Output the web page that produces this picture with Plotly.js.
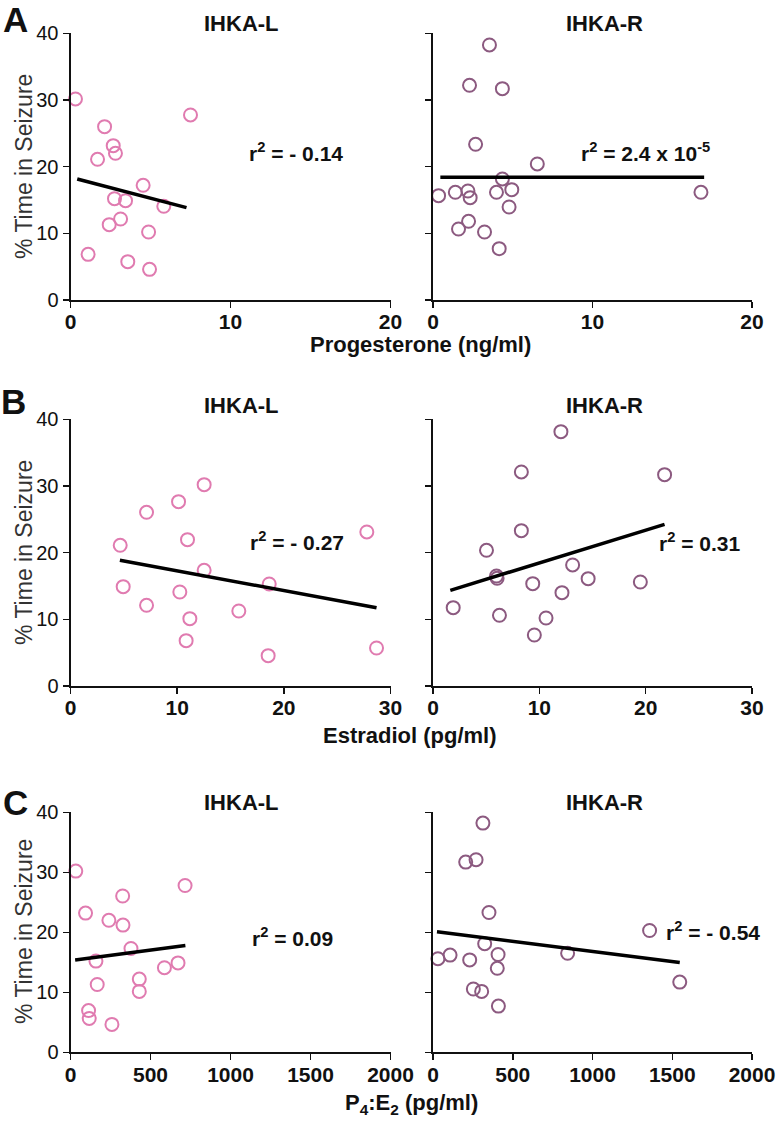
<!DOCTYPE html>
<html>
<head>
<meta charset="utf-8">
<script src="https://cdn.plot.ly/plotly-3.0.1.min.js"></script>
<style>body{margin:0;background:#fff}#chart{width:780px;height:1124px}</style>
</head>
<body>
<div id="chart"></div>
<script>
// ---- Data ----
// Panel A: Progesterone (ng/ml)
const progL_x = [0.31, 7.5, 2.13, 2.67, 2.81, 1.69, 4.54, 2.75, 3.44, 5.83, 2.42, 3.13, 4.88, 1.1, 3.58, 4.94];
const progL_y = [30.15, 27.75, 26.0, 23.15, 22.0, 21.1, 17.2, 15.2, 14.9, 14.05, 11.3, 12.15, 10.2, 6.85, 5.75, 4.6];
const progL_fitX = [0.42, 7.25];
const progL_fitY = [18.15, 13.85];
const progR_x = [3.54, 2.29, 4.35, 2.67, 6.54, 4.35, 0.35, 1.4, 2.19, 2.33, 3.98, 4.94, 4.77, 16.8, 2.23, 1.6, 3.23, 4.15];
const progR_y = [38.25, 32.2, 31.7, 23.35, 20.4, 18.15, 15.65, 16.15, 16.35, 15.35, 16.15, 16.55, 13.95, 16.15, 11.8, 10.65, 10.2, 7.7];
const progR_fitX = [0.46, 17.0];
const progR_fitY = [18.4, 18.4];
// Panel B: Estradiol (pg/ml)
const estL_x = [12.53, 10.13, 7.13, 27.78, 10.97, 4.66, 12.53, 4.94, 10.25, 18.63, 7.13, 15.78, 11.19, 10.84, 18.53, 28.69];
const estL_y = [30.2, 27.65, 26.05, 23.1, 21.95, 21.1, 17.35, 14.9, 14.1, 15.3, 12.1, 11.25, 10.1, 6.8, 4.55, 5.7];
const estL_fitX = [4.63, 28.69];
const estL_fitY = [18.85, 11.75];
const estR_x = [12.03, 8.31, 21.78, 8.31, 5.03, 13.13, 5.97, 6.03, 14.59, 19.5, 9.38, 12.13, 1.9, 6.25, 10.63, 9.53];
const estR_y = [38.15, 32.1, 31.7, 23.3, 20.35, 18.15, 16.5, 16.15, 16.1, 15.6, 15.35, 14.0, 11.75, 10.6, 10.2, 7.65];
const estR_fitX = [1.63, 21.78];
const estR_fitY = [14.35, 24.25];
// Panel C: P4:E2 (pg/ml)
const ratioL_x = [33, 716, 326, 94, 240, 328, 378, 159, 672, 587, 430, 430, 167, 113, 117, 259];
const ratioL_y = [30.2, 27.8, 26.05, 23.2, 22.0, 21.2, 17.3, 15.2, 14.9, 14.1, 12.2, 10.15, 11.3, 6.95, 5.65, 4.65];
const ratioL_fitX = [29, 718];
const ratioL_fitY = [15.4, 17.8];
const ratioR_x = [313, 205, 270, 351, 1358, 324, 31, 107, 230, 408, 403, 844, 1547, 253, 305, 410];
const ratioR_y = [38.2, 31.7, 32.1, 23.3, 20.3, 18.1, 15.6, 16.2, 15.4, 16.3, 14.0, 16.5, 11.7, 10.55, 10.15, 7.7];
const ratioR_fitX = [25, 1547];
const ratioR_fitY = [20.1, 14.95];

const yTicks = [0, 10, 20, 30, 40];
const progTicks = [0, 10, 20];
const estTicks = [0, 10, 20, 30];
const ratioTicks = [0, 500, 1000, 1500, 2000];

const colL = '#e07bb0';
const colR = '#8c5a80';
const FONT = 'Liberation Sans, Arial, sans-serif';

// ---- Layout geometry (pixels -> paper) ----
const W = 780, H = 1124;
const px = v => v / W;
const py = v => 1 - v / H;
const xDomL = [px(70.5), px(390.5)];
const xDomR = [px(433), px(752)];
const rows = [[33.3, 300], [419.3, 686], [812.3, 1052.3]];

const sets = [
  {lx: progL_x, ly: progL_y, lfx: progL_fitX, lfy: progL_fitY, rx: progR_x, ry: progR_y, rfx: progR_fitX, rfy: progR_fitY, range: [0, 20], ticks: progTicks},
  {lx: estL_x, ly: estL_y, lfx: estL_fitX, lfy: estL_fitY, rx: estR_x, ry: estR_y, rfx: estR_fitX, rfy: estR_fitY, range: [0, 30], ticks: estTicks},
  {lx: ratioL_x, ly: ratioL_y, lfx: ratioL_fitX, lfy: ratioL_fitY, rx: ratioR_x, ry: ratioR_y, rfx: ratioR_fitX, rfy: ratioR_fitY, range: [0, 2000], ticks: ratioTicks}
];

const traces = [];
const layout = {
  width: W, height: H,
  margin: {l: 0, r: 0, t: 0, b: 0},
  paper_bgcolor: '#fff', plot_bgcolor: '#fff',
  showlegend: false,
  font: {family: FONT, color: '#111'},
  annotations: []
};

function axisX(dom, anchor, s) {
  return {
    domain: dom, anchor: anchor, range: s.range,
    tickmode: 'array', tickvals: s.ticks, ticktext: s.ticks.map(t => '<b>' + t + '</b>'),
    showgrid: false, zeroline: false, showline: true, linecolor: '#111', linewidth: 2,
    ticks: 'outside', ticklen: 6, tickwidth: 1.5, tickcolor: '#111', ticklabelstandoff: -4,
    tickfont: {family: FONT, size: 21, color: '#111'}, fixedrange: true
  };
}
function axisY(dom, anchor, showLabels) {
  return {
    domain: dom, anchor: anchor, range: [0, 40], tickmode: 'array', tickvals: yTicks,
    showgrid: false, zeroline: false, showline: true, linecolor: '#111', linewidth: 2,
    ticks: 'outside', ticklen: 6, tickwidth: 1.5, tickcolor: '#111',
    showticklabels: showLabels,
    tickfont: {family: FONT, size: 20, color: '#111'}, fixedrange: true
  };
}

sets.forEach((s, i) => {
  const yDom = [py(rows[i][1]), py(rows[i][0])];
  const nL = 2 * i + 1, nR = 2 * i + 2;
  const xL = 'x' + (nL === 1 ? '' : nL), yL = 'y' + (nL === 1 ? '' : nL);
  const xR = 'x' + nR, yR = 'y' + nR;
  layout['xaxis' + (nL === 1 ? '' : nL)] = axisX(xDomL, yL, s);
  layout['yaxis' + (nL === 1 ? '' : nL)] = axisY(yDom, xL, true);
  layout['xaxis' + nR] = axisX(xDomR, yR, s);
  layout['yaxis' + nR] = axisY(yDom, xR, false);

  traces.push({x: s.lx, y: s.ly, xaxis: xL, yaxis: yL, type: 'scatter', mode: 'markers', cliponaxis: false,
    marker: {symbol: 'circle-open', size: 13, color: colL, line: {width: 2, color: colL}}});
  traces.push({x: s.lfx, y: s.lfy, xaxis: xL, yaxis: yL, type: 'scatter', mode: 'lines', cliponaxis: false,
    line: {color: '#000', width: 3.5}});
  traces.push({x: s.rx, y: s.ry, xaxis: xR, yaxis: yR, type: 'scatter', mode: 'markers', cliponaxis: false,
    marker: {symbol: 'circle-open', size: 13, color: colR, line: {width: 2, color: colR}}});
  traces.push({x: s.rfx, y: s.rfy, xaxis: xR, yaxis: yR, type: 'scatter', mode: 'lines', cliponaxis: false,
    line: {color: '#000', width: 3.5}});
});

function ann(text, x, y, size, extra) {
  layout.annotations.push(Object.assign({
    text: text, x: px(x), y: py(y), xref: 'paper', yref: 'paper',
    showarrow: false, xanchor: 'center', yanchor: 'middle',
    font: {family: FONT, size: size, color: '#111'}
  }, extra || {}));
}
const B = t => '<b>' + t + '</b>';

// Panel letters
ann(B('A'), 15, 19, 35);
ann(B('B'), 14, 401, 35);
ann(B('C'), 15, 802, 35);

// Subplot titles
[23, 405, 802].forEach(y => {
  ann(B('IHKA-L'), 241, y, 22);
  ann(B('IHKA-R'), 604, y, 22);
});

// Y-axis titles
[167, 553, 932].forEach(y => {
  layout.annotations.push({
    text: '% Time in Seizure', x: px(24), y: py(y), xref: 'paper', yref: 'paper',
    showarrow: false, xanchor: 'center', yanchor: 'middle', textangle: -90,
    font: {family: FONT, size: 23, color: '#333'}
  });
});

// X-axis titles
ann(B('Progesterone (ng/ml)'), 420, 344, 22);
ann(B('Estradiol (pg/ml)'), 410, 735, 22);
ann(B('P<sub>4</sub>:E<sub>2</sub> (pg/ml)'), 411, 1104, 22);

// r^2 labels
ann(B('r<sup>2</sup> = - 0.14'), 296, 152, 21);
ann(B('r<sup>2</sup> = 2.4 x 10<sup>-5</sup>'), 645, 152, 21);
ann(B('r<sup>2</sup> = - 0.27'), 297, 541, 21);
ann(B('r<sup>2</sup> = 0.31'), 699, 542, 21);
ann(B('r<sup>2</sup> = 0.09'), 292, 937, 21);
ann(B('r<sup>2</sup> = - 0.54'), 713, 931, 21);

Plotly.newPlot('chart', traces, layout, {staticPlot: true, displayModeBar: false});
</script>
</body>
</html>
